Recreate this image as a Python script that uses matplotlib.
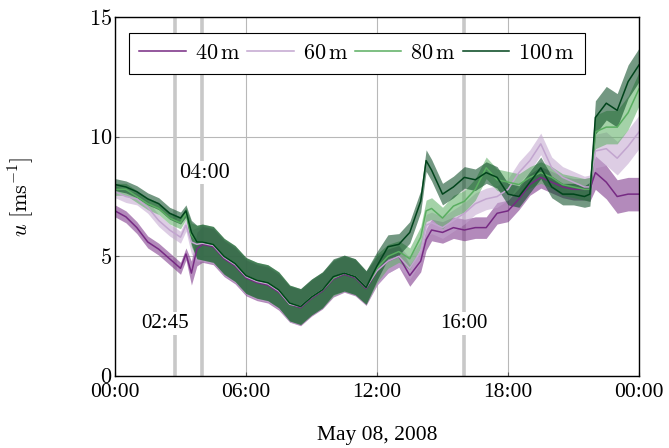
import matplotlib.pyplot as plt
from matplotlib.ticker import FixedLocator, FuncFormatter

plt.rcParams['mathtext.fontset'] = 'cm'
plt.rcParams['font.family'] = ['Liberation Serif', 'DejaVu Serif']

# time of day in hours
hours = [0, 0.5, 1, 1.5, 2, 2.5, 3, 3.25, 3.5, 3.75, 4, 4.5, 5, 5.5, 6, 6.5, 7, 7.5, 8,
         8.5, 9, 9.5, 10, 10.5, 11, 11.5, 12, 12.5, 13, 13.5, 14, 14.25, 14.5, 15, 15.5,
         16, 16.5, 17, 17.5, 18, 18.5, 19, 19.5, 20, 20.5, 21, 21.5, 21.75, 22, 22.5,
         23, 23.5, 24]

# mean wind speed per height (m/s)
u_40 = [6.9, 6.65, 6.2, 5.6, 5.3, 4.9, 4.5, 5.1, 4.3, 5.3, 5.5, 5.4, 4.9, 4.6, 4.1, 3.9,
        3.8, 3.5, 3.0, 2.85, 3.25, 3.55, 4.05, 4.25, 4.1, 3.65, 4.4, 4.8, 5.0, 4.2, 4.8,
        5.7, 6.1, 6.0, 6.2, 6.1, 6.2, 6.2, 6.8, 6.9, 7.4, 8.0, 8.3, 8.1, 7.9, 7.8, 7.8,
        7.8, 8.5, 8.1, 7.5, 7.6, 7.6]
u_60 = [7.7, 7.5, 7.4, 7.05, 6.5, 6.1, 5.8, 6.3, 5.6, 5.5, 5.55, 5.45, 4.95, 4.65, 4.15,
        3.95, 3.85, 3.55, 3.0, 2.9, 3.3, 3.6, 4.1, 4.3, 4.15, 3.7, 4.4, 4.8, 5.0, 4.5, 5.2,
        6.3, 6.4, 6.2, 6.5, 6.8, 7.2, 7.4, 7.5, 7.8, 8.5, 9.0, 9.7, 8.7, 8.3, 8.1, 7.9,
        7.9, 9.4, 9.5, 9.1, 9.6, 10.2]
u_80 = [7.8, 7.8, 7.5, 7.2, 7.0, 6.6, 6.4, 6.8, 5.9, 5.6, 5.6, 5.5, 5.0, 4.7, 4.2, 4.0,
        3.9, 3.6, 3.05, 2.9, 3.3, 3.6, 4.1, 4.3, 4.15, 3.7, 4.5, 5.0, 5.2, 4.9, 5.8, 6.9,
        7.0, 6.6, 7.1, 7.3, 7.8, 8.7, 8.2, 8.1, 8.0, 8.3, 8.5, 8.3, 8.0, 7.9, 7.8, 7.8,
        10.2, 10.4, 10.4, 11.0, 12.0]
u_100 = [8.0, 7.9, 7.7, 7.4, 7.2, 6.8, 6.6, 6.9, 6.0, 5.6, 5.6, 5.5, 5.0, 4.7, 4.2, 4.0,
         3.9, 3.6, 3.05, 2.9, 3.3, 3.6, 4.15, 4.3, 4.15, 3.7, 4.6, 5.4, 5.5, 6.0, 7.3, 9.0,
         8.6, 7.6, 7.9, 8.3, 8.2, 8.5, 8.3, 7.6, 7.5, 8.1, 8.7, 7.9, 7.6, 7.6, 7.5, 7.6,
         10.8, 11.4, 11.1, 12.3, 13.0]

# half width of the fluctuation band (m/s)
spread = [0.25, 0.25, 0.25, 0.25, 0.25, 0.25, 0.25, 0.25, 0.5, 0.7, 0.75, 0.75, 0.75,
          0.75, 0.75, 0.75, 0.75, 0.75, 0.75, 0.75, 0.75, 0.75, 0.75, 0.75, 0.75, 0.7,
          0.6, 0.5, 0.45, 0.45, 0.45, 0.45, 0.45, 0.45, 0.45, 0.45, 0.45, 0.45, 0.45,
          0.45, 0.45, 0.45, 0.45, 0.45, 0.45, 0.45, 0.45, 0.5, 0.7, 0.7, 0.7, 0.7, 0.7]

series = [('40', u_40, '#762a83'), ('60', u_60, '#c2a5cf'),
          ('80', u_80, '#5aae61'), ('100', u_100, '#00441b')]

events = [2.75, 4.0, 16.0]
tick_hours = [0, 6, 12, 18, 24]
tick_labels = ['00:00', '06:00', '12:00', '18:00', '00:00']

fig = plt.figure(figsize=(6.69, 4.48), dpi=100)
ax = fig.add_axes([0.1719, 0.1607, 0.7833, 0.8013])

for h in events:
    ax.axvline(h, color='#c8c8c8', lw=2.6, zorder=1)

for name, u, col in series:
    lo = [a - s for a, s in zip(u, spread)]
    hi = [a + s for a, s in zip(u, spread)]
    ax.fill_between(hours, lo, hi, color=col, alpha=0.55, lw=0, zorder=2)
    ax.plot(hours, u, color=col, lw=1.1, zorder=3, label=r'$%s\,\mathrm{m}$' % name)

box = dict(facecolor='white', edgecolor='none', pad=1.5)
ax.text(2.3, 2.2, '02:45', fontsize=15, ha='center', va='center', bbox=box, zorder=4)
ax.text(4.1, 8.5, '04:00', fontsize=16, family='cmr10', ha='center', va='center',
        bbox=box, zorder=4)
ax.text(16.0, 2.2, '16:00', fontsize=15, ha='center', va='center', bbox=box, zorder=4)

ax.set_xlim(0, 24)
ax.set_ylim(0, 15)
ax.xaxis.set_major_locator(FixedLocator(tick_hours))
ax.set_xticklabels(tick_labels, fontsize=15.5)
ax.yaxis.set_major_locator(FixedLocator([0, 5, 10, 15]))
ax.yaxis.set_major_formatter(FuncFormatter(lambda v, p: r'$%d$' % v))
ax.tick_params(axis='y', labelsize=16)
ax.tick_params(direction='in', length=3, color='#555555', pad=2)
ax.tick_params(axis='x', pad=5)
ax.grid(color='#b8b8b8', lw=0.8)
ax.set_axisbelow(True)
for sp in ax.spines.values():
    sp.set_linewidth(1.0)
    sp.set_zorder(5)

ax.set_xlabel('May 08, 2008', fontsize=15.5, labelpad=17)
ax.set_ylabel(r'$u\ [\mathrm{ms}^{-1}]$', fontsize=16)
ax.yaxis.set_label_coords(-0.15, 0.5)

leg = ax.legend(loc='upper left', bbox_to_anchor=(0.027, 0.955), ncol=4, fontsize=16,
                handlelength=2.1, handletextpad=0.4, columnspacing=0.3,
                borderaxespad=0, fancybox=False, framealpha=1, edgecolor='black',
                borderpad=0.45)
leg.get_frame().set_linewidth(0.8)

plt.savefig('out.png', dpi=100)
